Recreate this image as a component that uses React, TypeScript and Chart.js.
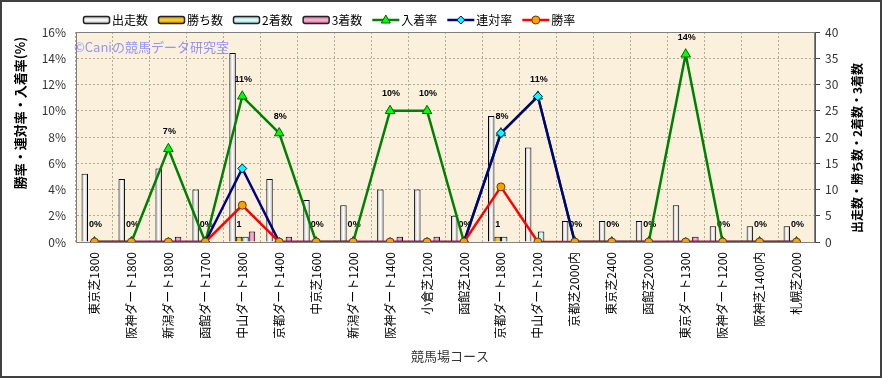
import React, { useEffect, useRef } from 'react';
import { Chart, registerables } from 'chart.js';

Chart.register(...registerables);

const categories = [
  '東京芝1800', '阪神ダート1800', '新潟ダート1800', '函館ダート1700', '中山ダート1800',
  '京都ダート1400', '中京芝1600', '新潟ダート1200', '阪神ダート1400', '小倉芝1200',
  '函館芝1200', '京都ダート1800', '中山ダート1200', '京都芝2000内', '東京芝2400',
  '函館芝2000', '東京ダート1300', '阪神ダート1200', '阪神芝1400内', '札幌芝2000',
];
const starts = [13, 12, 14, 10, 36, 12, 8, 7, 10, 10, 5, 24, 18, 4, 4, 4, 7, 3, 3, 3];
const wins = [0, 0, 0, 0, 1, 0, 0, 0, 0, 0, 0, 1, 0, 0, 0, 0, 0, 0, 0, 0];
const seconds = [0, 0, 0, 0, 1, 0, 0, 0, 0, 0, 0, 1, 2, 0, 0, 0, 0, 0, 0, 0];
const thirds = [0, 0, 1, 0, 2, 1, 0, 0, 1, 1, 0, 0, 0, 0, 0, 0, 1, 0, 0, 0];
const placeRate = [0, 0, 7.1, 0, 11.1, 8.3, 0, 0, 10, 10, 0, 8.3, 11.1, 0, 0, 0, 14.3, 0, 0, 0];
const quinellaRate = [0, 0, 0, 0, 5.6, 0, 0, 0, 0, 0, 0, 8.3, 11.1, 0, 0, 0, 0, 0, 0, 0];
const winRate = [0, 0, 0, 0, 2.8, 0, 0, 0, 0, 0, 0, 4.2, 0, 0, 0, 0, 0, 0, 0, 0];

const leftTicks = [0, 2, 4, 6, 8, 10, 12, 14, 16];
const rightTicks = [0, 5, 10, 15, 20, 25, 30, 35, 40];

const seriesNames = ['出走数', '勝ち数', '2着数', '3着数', '入着率', '連対率', '勝率'];
const leftTitle = '勝率・連対率・入着率(%)';
const rightTitle = '出走数・勝ち数・2着数・3着数';
const xTitle = '競馬場コース';
const watermark = '©Caniの競馬データ研究室';

const FONT = '"Noto Sans CJK JP", "Noto Sans", sans-serif';

const barColors = [
  { edge: '#b4b4b4', mid: '#ffffff' },
  { edge: '#c89000', mid: '#ffd23c' },
  { edge: '#8ccaca', mid: '#e4ffff' },
  { edge: '#cc6a9c', mid: '#ffb4da' },
];
const CAT_PCT = 0.7;

function barBg(seriesIdx: number) {
  return (c: any) => {
    const chart = c.chart;
    const xs = chart.scales && chart.scales.x;
    const area = chart.chartArea;
    const col = barColors[seriesIdx];
    if (!xs || !area) return col.mid;
    const cw = (area.right - area.left) / categories.length;
    const center = xs.getPixelForValue(c.dataIndex);
    const w = (cw * CAT_PCT) / 4;
    const left = center - (cw * CAT_PCT) / 2 + w * seriesIdx;
    const g = chart.ctx.createLinearGradient(left, 0, left + w, 0);
    g.addColorStop(0, col.edge);
    g.addColorStop(0.5, col.mid);
    g.addColorStop(1, col.edge);
    return g;
  };
}

function drawMarker(ctx: CanvasRenderingContext2D, kind: string, x: number, y: number) {
  ctx.save();
  ctx.lineWidth = 1;
  ctx.beginPath();
  if (kind === 'tri') {
    ctx.moveTo(x, y - 5);
    ctx.lineTo(x + 4.5, y + 3);
    ctx.lineTo(x - 4.5, y + 3);
    ctx.closePath();
    ctx.fillStyle = '#00ff00';
    ctx.strokeStyle = '#006400';
  } else if (kind === 'dia') {
    ctx.moveTo(x, y - 4);
    ctx.lineTo(x + 4, y);
    ctx.lineTo(x, y + 4);
    ctx.lineTo(x - 4, y);
    ctx.closePath();
    ctx.fillStyle = '#00ffff';
    ctx.strokeStyle = '#000080';
  } else {
    ctx.arc(x, y, 4, 0, Math.PI * 2);
    ctx.fillStyle = '#ffa000';
    ctx.strokeStyle = '#6a3a00';
  }
  ctx.fill();
  ctx.stroke();
  ctx.restore();
}

const decorPlugin = {
  id: 'decor',
  beforeDraw(chart: any) {
    const { ctx, chartArea: a } = chart;
    ctx.save();
    ctx.fillStyle = '#ffffff';
    ctx.fillRect(0, 0, chart.width, chart.height);
    ctx.fillStyle = '#faf0dc';
    ctx.fillRect(a.left, a.top, a.right - a.left, a.bottom - a.top);
    ctx.restore();
  },
  beforeDatasetsDraw(chart: any) {
    const { ctx, chartArea: a } = chart;
    ctx.save();
    // plot frame
    ctx.strokeStyle = '#808080';
    ctx.lineWidth = 1;
    ctx.strokeRect(a.left + 0.5, a.top + 0.5, a.right - a.left - 1, a.bottom - a.top);
    // watermark
    ctx.font = '13px ' + FONT;
    ctx.fillStyle = 'rgba(120,125,255,0.8)';
    ctx.textAlign = 'left';
    ctx.textBaseline = 'middle';
    ctx.fillText(watermark, a.left - 2, 47);
    // data labels
    ctx.font = 'bold 9px "Liberation Sans", sans-serif';
    ctx.fillStyle = '#000';
    ctx.textAlign = 'center';
    const pm = chart.getDatasetMeta(4);
    pm.data.forEach((el: any, i: number) => {
      ctx.fillText(Math.round(placeRate[i]) + '%', el.x + 1, el.y - 17);
    });
    const wm = chart.getDatasetMeta(1);
    wm.data.forEach((el: any, i: number) => {
      if (wins[i] > 0) ctx.fillText(String(wins[i]), el.x, el.y - 12);
    });
    ctx.restore();
  },
  afterDraw(chart: any) {
    const { ctx } = chart;
    ctx.save();
    // axis titles
    ctx.fillStyle = '#000';
    ctx.textAlign = 'center';
    ctx.textBaseline = 'middle';
    ctx.font = 'bold 13px ' + FONT;
    ctx.save();
    ctx.translate(20, 113);
    ctx.rotate(-Math.PI / 2);
    ctx.fillText(leftTitle, 0, 0);
    ctx.restore();
    ctx.font = 'bold 12px ' + FONT;
    ctx.save();
    ctx.translate(857, 148);
    ctx.rotate(-Math.PI / 2);
    ctx.fillText(rightTitle, 0, 0);
    ctx.restore();
    ctx.font = '13px ' + FONT;
    ctx.fillStyle = '#333';
    ctx.fillText(xTitle, 450, 356);

    // legend
    ctx.font = '12px ' + FONT;
    ctx.fillStyle = '#000';
    ctx.textAlign = 'left';
    let x = 83;
    const y = 20;
    seriesNames.forEach((name, i) => {
      if (i < 4) {
        const col = barColors[i];
        const g = ctx.createLinearGradient(0, y - 3.5, 0, y + 3.5);
        g.addColorStop(0, col.edge);
        g.addColorStop(0.5, col.mid);
        g.addColorStop(1, col.edge);
        ctx.fillStyle = g;
        ctx.beginPath();
        ctx.roundRect(x + 0.5, y - 3.5, 26, 7, 2);
        ctx.fill();
        ctx.strokeStyle = '#222';
        ctx.lineWidth = 1.5;
        ctx.stroke();
      } else {
        const lc = ['#008000', '#000080', '#ff0000'][i - 4];
        ctx.strokeStyle = lc;
        ctx.lineWidth = 2.5;
        ctx.beginPath();
        ctx.moveTo(x, y);
        ctx.lineTo(x + 27, y);
        ctx.stroke();
        drawMarker(ctx, ['tri', 'dia', 'circ'][i - 4], x + 13.5, y);
      }
      ctx.fillStyle = '#000';
      ctx.textBaseline = 'middle';
      ctx.fillText(name, x + 29, y);
      x += 29 + ctx.measureText(name).width + 10;
    });

    // outer border
    ctx.strokeStyle = '#404040';
    ctx.lineWidth = 2;
    ctx.strokeRect(1, 1, chart.width - 2, chart.height - 2);
    ctx.restore();
  },
};

export default function App() {
  const ref = useRef<HTMLCanvasElement>(null);

  useEffect(() => {
    const canvas = ref.current;
    if (!canvas) return;
    Chart.defaults.font.family = FONT;
    const barDs = (i: number, data: number[]) => ({
      type: 'bar' as const,
      label: seriesNames[i],
      data,
      yAxisID: 'yR',
      order: 4 + i,
      backgroundColor: barBg(i),
      borderColor: '#000',
      borderWidth: 1,
      categoryPercentage: CAT_PCT,
      barPercentage: 1,
    });
    const chart = new Chart(canvas, {
      type: 'bar',
      data: {
        labels: categories,
        datasets: [
          barDs(0, starts),
          barDs(1, wins),
          barDs(2, seconds),
          barDs(3, thirds),
          {
            type: 'line',
            label: seriesNames[4],
            data: placeRate,
            yAxisID: 'yL',
            order: 3,
            borderColor: '#008000',
            borderWidth: 2.5,
            pointStyle: 'triangle',
            pointRadius: 5.5,
            pointBackgroundColor: '#00ff00',
            pointBorderColor: '#006400',
            pointBorderWidth: 1,
            tension: 0,
          } as any,
          {
            type: 'line',
            label: seriesNames[5],
            data: quinellaRate,
            yAxisID: 'yL',
            order: 2,
            borderColor: '#000080',
            borderWidth: 2.5,
            pointStyle: 'rectRot',
            pointRadius: 4.5,
            pointBackgroundColor: '#00ffff',
            pointBorderColor: '#000080',
            pointBorderWidth: 1,
            tension: 0,
          } as any,
          {
            type: 'line',
            label: seriesNames[6],
            data: winRate,
            yAxisID: 'yL',
            order: 1,
            borderColor: '#ff0000',
            borderWidth: 2.5,
            pointStyle: 'circle',
            pointRadius: 4,
            pointBackgroundColor: '#ffa000',
            pointBorderColor: '#6a3a00',
            pointBorderWidth: 1,
            tension: 0,
          } as any,
        ],
      },
      options: {
        responsive: false,
        maintainAspectRatio: false,
        animation: false,
        layout: { padding: { top: 32, left: 0, right: 0, bottom: 0 } },
        plugins: {
          legend: { display: false },
          tooltip: { enabled: false },
        },
        scales: {
          x: {
            type: 'category',
            offset: true,
            grid: { offset: true, color: '#b4aa98', lineWidth: 1, drawTicks: false },
            border: { display: true, color: '#808080', dash: [2, 2] },
            ticks: {
              autoSkip: false,
              maxRotation: 90,
              minRotation: 90,
              padding: 10,
              color: '#000',
              font: { size: 12, family: FONT },
            },
            afterFit: (s: any) => { s.height = 136; },
          },
          yL: {
            type: 'linear',
            position: 'left',
            min: 0,
            max: 16,
            afterBuildTicks: (s: any) => { s.ticks = leftTicks.map((v) => ({ value: v })); },
            ticks: {
              callback: (v: any) => v + '%',
              padding: 10,
              color: '#333',
              font: { size: 12, family: FONT },
            },
            grid: { color: '#b4aa98', lineWidth: 1, drawTicks: false },
            border: { display: true, color: '#808080', dash: [2, 2] },
            afterFit: (s: any) => { s.width = 76; },
          },
          yR: {
            type: 'linear',
            position: 'right',
            min: 0,
            max: 40,
            afterBuildTicks: (s: any) => { s.ticks = rightTicks.map((v) => ({ value: v })); },
            ticks: {
              padding: 5,
              color: '#333',
              font: { size: 12, family: FONT },
            },
            grid: { drawOnChartArea: false, drawTicks: true, tickLength: 5, color: '#444' },
            border: { display: true, color: '#555' },
            afterFit: (s: any) => { s.width = 67; },
          },
        },
      } as any,
      plugins: [decorPlugin],
    });
    return () => chart.destroy();
  }, []);

  return (
    <div style={{ position: 'absolute', left: 0, top: 0, width: 882, height: 378 }}>
      <canvas ref={ref} width={882} height={378} style={{ display: 'block', width: 882, height: 378 }} />
    </div>
  );
}
